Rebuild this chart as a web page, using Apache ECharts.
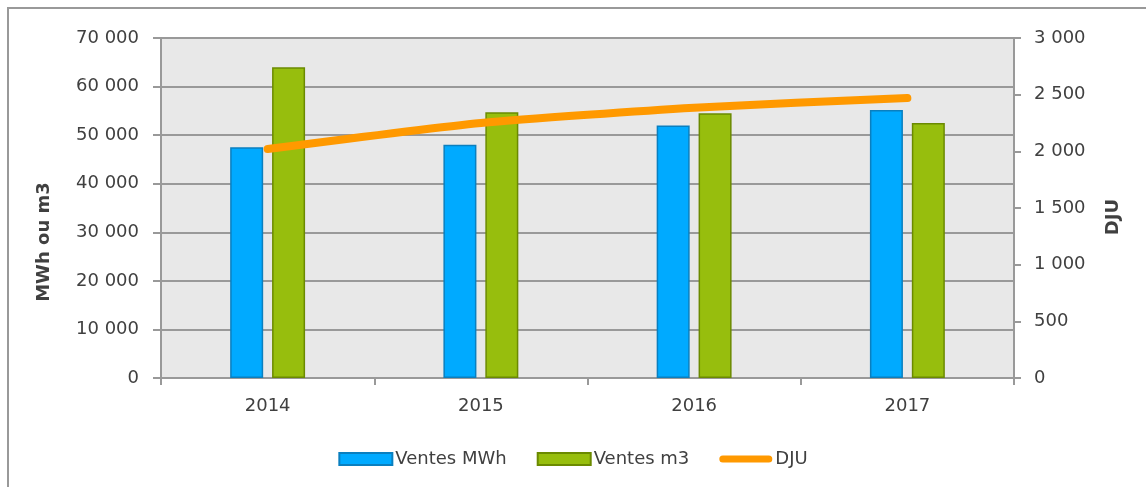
<!DOCTYPE html>
<html>
<head>
<meta charset="utf-8">
<script src="https://cdn.jsdelivr.net/npm/echarts@6/dist/echarts.min.js"></script>
<style>
  html, body { margin: 0; padding: 0; background: #fff; overflow: hidden; }
  #frame { position: absolute; left: 7px; top: 7px; width: 1160px; height: 500px; border: 2px solid #999; box-sizing: border-box; }
  #main_charts { position: absolute; left: 0; top: 0; width: 1146px; height: 487px; }
</style>
</head>
<body>
<div id="frame"></div>
<div id="main_charts"></div>
<script>
  var years = ['2014', '2015', '2016', '2017'];
  var ventesMWh = [47500, 48000, 52000, 55200];
  var ventesM3 = [64000, 54700, 54500, 52500];
  var dju = [2020, 2250, 2385, 2470];

  function fmt(v) {
    return String(v).replace(/\B(?=(\d{3})+(?!\d))/g, ' ');
  }

  var myChart = echarts.init(document.getElementById('main_charts'));
  var font = 'DejaVu Sans';
  var option = {
    animation: false,
    textStyle: { fontFamily: font },
    grid: {
      left: 161, right: 132, top: 38, bottom: 109,
      show: true, backgroundColor: '#e8e8e8', borderColor: '#999', borderWidth: 2
    },
    legend: {
      bottom: 14,
      left: 'center',
      itemWidth: 53,
      itemHeight: 12,
      itemGap: 30,
      textStyle: { fontFamily: font, fontSize: 18, color: '#404040', padding: [0, 0, 0, -2] },
      data: [
        { name: 'Ventes MWh', icon: 'rect' },
        { name: 'Ventes m3', icon: 'rect' },
        { name: 'DJU', icon: 'path://M4,0 H56 A4,4 0 0 1 56,8 H4 A4,4 0 0 1 4,0 Z' }
      ]
    },
    xAxis: {
      type: 'category',
      data: years,
      axisLine: { lineStyle: { color: '#999', width: 2 } },
      axisTick: { show: true, length: 7, lineStyle: { color: '#999', width: 2 } },
      axisLabel: { fontSize: 18, color: '#404040', margin: 19 }
    },
    yAxis: [
      {
        type: 'value',
        min: 0, max: 70000, interval: 10000,
        name: 'MWh ou m3',
        nameLocation: 'middle',
        nameRotate: 90,
        nameGap: 108,
        nameTextStyle: { fontSize: 18, fontWeight: 'bold', color: '#404040', padding: [0, 68, 0, 0] },
        axisLine: { show: true, lineStyle: { color: '#999', width: 2 } },
        axisTick: { show: true, length: 8, lineStyle: { color: '#999', width: 2 } },
        axisLabel: { fontSize: 18, color: '#404040', margin: 22, formatter: fmt },
        splitLine: { lineStyle: { color: '#999', width: 2 } }
      },
      {
        type: 'value',
        min: 0, max: 3000, interval: 500,
        position: 'right',
        name: 'DJU',
        nameLocation: 'middle',
        nameRotate: 90,
        nameGap: 90,
        nameTextStyle: { fontSize: 18, fontWeight: 'bold', color: '#404040', padding: [0, 18, 0, 0] },
        axisLine: { show: true, lineStyle: { color: '#999', width: 2 } },
        axisTick: { show: true, length: 7, lineStyle: { color: '#999', width: 2 } },
        axisLabel: { fontSize: 18, color: '#404040', margin: 20, formatter: fmt },
        splitLine: { show: false }
      }
    ],
    series: [
      {
        name: 'Ventes MWh',
        type: 'bar',
        data: ventesMWh,
        barWidth: 33,
        barGap: '27%',
        itemStyle: { color: '#00aaff', borderColor: '#0a7fbf', borderWidth: 1.5 }
      },
      {
        name: 'Ventes m3',
        type: 'bar',
        data: ventesM3,
        barWidth: 33,
        barGap: '27%',
        itemStyle: { color: '#97be0d', borderColor: '#6b8a00', borderWidth: 1.5 }
      },
      {
        name: 'DJU',
        type: 'line',
        yAxisIndex: 1,
        data: dju,
        symbol: 'none',
        smooth: 0.2,
        itemStyle: { color: '#ff9900' },
        lineStyle: { color: '#ff9900', width: 8, cap: 'round' }
      }
    ]
  };
  myChart.setOption(option);
</script>
</body>
</html>
